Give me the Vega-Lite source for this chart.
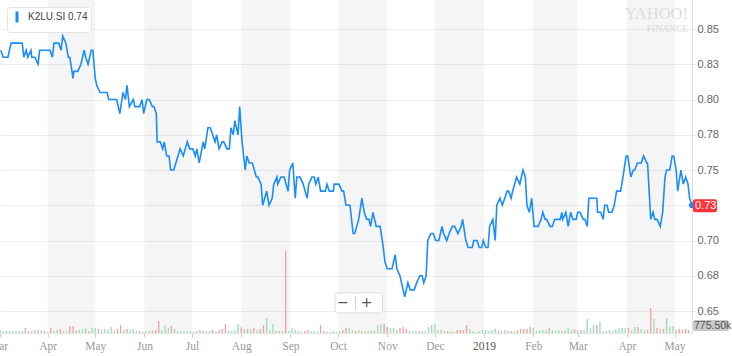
{
"$schema":"https://vega.github.io/schema/vega-lite/v6.json",
"width":692,"height":333,
"autosize":{"type":"none"},
"padding":{"left":0,"top":0,"right":40,"bottom":23},
"background":"white",
"config":{"view":{"stroke":null}},
"title":{"text":"YAHOO!","subtitle":"FINANCE","anchor":"end","frame":"group","orient":"top","offset":-33,"dx":-4,"color":"#dcdcdc","font":"Liberation Serif","fontSize":16.5,"fontWeight":"normal","subtitleColor":"#dcdcdc","subtitleFont":"Liberation Serif","subtitleFontSize":9.5,"subtitlePadding":1},
"datasets":{
"bands":[{"s":"2018-04-01","e":"2018-05-01"},{"s":"2018-06-01","e":"2018-07-01"},{"s":"2018-08-01","e":"2018-09-01"},{"s":"2018-10-01","e":"2018-11-01"},{"s":"2018-12-01","e":"2019-01-01"},{"s":"2019-02-01","e":"2019-03-01"},{"s":"2019-04-01","e":"2019-05-01"}],
"price":[
{"d":"2018-03-02T12:00Z","p":0.835},{"d":"2018-03-04","p":0.83},{"d":"2018-03-07","p":0.83},{"d":"2018-03-09","p":0.84},{"d":"2018-03-16","p":0.84},{"d":"2018-03-17","p":0.83},{"d":"2018-03-18T12:00Z","p":0.835},{"d":"2018-03-19T12:00Z","p":0.83},{"d":"2018-03-21T12:00Z","p":0.835},{"d":"2018-03-22","p":0.83},{"d":"2018-03-24","p":0.83},{"d":"2018-03-26","p":0.825},{"d":"2018-03-27","p":0.835},
{"d":"2018-04-02T12:00Z","p":0.835},{"d":"2018-04-04","p":0.83},{"d":"2018-04-05","p":0.84},{"d":"2018-04-08","p":0.84},{"d":"2018-04-09T12:00Z","p":0.835},{"d":"2018-04-10T12:00Z","p":0.845},{"d":"2018-04-12T12:00Z","p":0.84},{"d":"2018-04-14","p":0.83},{"d":"2018-04-15","p":0.83},{"d":"2018-04-17","p":0.815},{"d":"2018-04-17T12:00Z","p":0.82},{"d":"2018-04-20","p":0.82},{"d":"2018-04-22","p":0.825},{"d":"2018-04-24","p":0.835},{"d":"2018-04-25","p":0.83},{"d":"2018-04-26T12:00Z","p":0.825},{"d":"2018-04-28T12:00Z","p":0.835},{"d":"2018-04-29T12:00Z","p":0.835},
{"d":"2018-05-01","p":0.815},{"d":"2018-05-02","p":0.81},{"d":"2018-05-04","p":0.805},{"d":"2018-05-08T12:00Z","p":0.805},{"d":"2018-05-09T12:00Z","p":0.80},{"d":"2018-05-14T12:00Z","p":0.80},{"d":"2018-05-16T12:00Z","p":0.79},{"d":"2018-05-18T12:00Z","p":0.805},{"d":"2018-05-20","p":0.80},{"d":"2018-05-21","p":0.81},{"d":"2018-05-22T12:00Z","p":0.795},{"d":"2018-05-25","p":0.80},{"d":"2018-05-26","p":0.795},{"d":"2018-05-29","p":0.795},{"d":"2018-05-30T12:00Z","p":0.80},{"d":"2018-05-31T12:00Z","p":0.79},
{"d":"2018-06-02T12:00Z","p":0.80},{"d":"2018-06-04","p":0.80},{"d":"2018-06-06","p":0.795},{"d":"2018-06-07","p":0.795},{"d":"2018-06-08T12:00Z","p":0.79},{"d":"2018-06-09","p":0.77},{"d":"2018-06-11","p":0.77},{"d":"2018-06-12T12:00Z","p":0.765},{"d":"2018-06-13T12:00Z","p":0.77},{"d":"2018-06-15","p":0.76},{"d":"2018-06-16T12:00Z","p":0.76},{"d":"2018-06-17T12:00Z","p":0.75},{"d":"2018-06-19T12:00Z","p":0.75},{"d":"2018-06-23T12:00Z","p":0.765},{"d":"2018-06-25T12:00Z","p":0.76},{"d":"2018-06-28","p":0.77},{"d":"2018-06-29T12:00Z","p":0.765},
{"d":"2018-07-01T12:00Z","p":0.765},{"d":"2018-07-03","p":0.76},{"d":"2018-07-04","p":0.765},{"d":"2018-07-05T12:00Z","p":0.755},{"d":"2018-07-08","p":0.77},{"d":"2018-07-09","p":0.765},{"d":"2018-07-11","p":0.78},{"d":"2018-07-12T12:00Z","p":0.78},{"d":"2018-07-14","p":0.775},{"d":"2018-07-15T12:00Z","p":0.77},{"d":"2018-07-16T12:00Z","p":0.775},{"d":"2018-07-18","p":0.765},{"d":"2018-07-20","p":0.77},{"d":"2018-07-21","p":0.77},{"d":"2018-07-23","p":0.765},{"d":"2018-07-24T12:00Z","p":0.765},{"d":"2018-07-25T12:00Z","p":0.78},{"d":"2018-07-27","p":0.775},{"d":"2018-07-28","p":0.785},{"d":"2018-07-30","p":0.775},{"d":"2018-07-31","p":0.795},
{"d":"2018-08-01T12:00Z","p":0.77},{"d":"2018-08-03T12:00Z","p":0.75},{"d":"2018-08-04T12:00Z","p":0.76},{"d":"2018-08-06","p":0.755},{"d":"2018-08-08","p":0.755},{"d":"2018-08-10T12:00Z","p":0.745},{"d":"2018-08-11T12:00Z","p":0.745},{"d":"2018-08-13T12:00Z","p":0.74},{"d":"2018-08-14T12:00Z","p":0.725},{"d":"2018-08-17","p":0.735},{"d":"2018-08-18T12:00Z","p":0.725},{"d":"2018-08-20T12:00Z","p":0.73},{"d":"2018-08-21T12:00Z","p":0.74},{"d":"2018-08-23T12:00Z","p":0.745},{"d":"2018-08-24","p":0.74},{"d":"2018-08-26","p":0.745},{"d":"2018-08-28","p":0.745},{"d":"2018-08-30T12:00Z","p":0.735},{"d":"2018-08-31T12:00Z","p":0.75},
{"d":"2018-09-02T12:00Z","p":0.755},{"d":"2018-09-04","p":0.73},{"d":"2018-09-05","p":0.745},{"d":"2018-09-07","p":0.745},{"d":"2018-09-09","p":0.74},{"d":"2018-09-11T12:00Z","p":0.73},{"d":"2018-09-12T12:00Z","p":0.74},{"d":"2018-09-14T12:00Z","p":0.745},{"d":"2018-09-16","p":0.745},{"d":"2018-09-17","p":0.74},{"d":"2018-09-18T12:00Z","p":0.745},{"d":"2018-09-20","p":0.735},{"d":"2018-09-23","p":0.735},{"d":"2018-09-24","p":0.74},{"d":"2018-09-25T12:00Z","p":0.735},{"d":"2018-09-28","p":0.735},{"d":"2018-09-28T12:00Z","p":0.74},
{"d":"2018-10-01T12:00Z","p":0.74},{"d":"2018-10-03T12:00Z","p":0.735},{"d":"2018-10-04T12:00Z","p":0.735},{"d":"2018-10-06","p":0.725},{"d":"2018-10-08T12:00Z","p":0.725},{"d":"2018-10-10T12:00Z","p":0.705},{"d":"2018-10-11T12:00Z","p":0.705},{"d":"2018-10-14","p":0.715},{"d":"2018-10-16","p":0.73},{"d":"2018-10-17T12:00Z","p":0.72},{"d":"2018-10-19","p":0.715},{"d":"2018-10-20T12:00Z","p":0.715},{"d":"2018-10-21T12:00Z","p":0.71},{"d":"2018-10-23","p":0.72},{"d":"2018-10-25","p":0.71},{"d":"2018-10-27T12:00Z","p":0.71},{"d":"2018-10-29T12:00Z","p":0.695},{"d":"2018-10-30T12:00Z","p":0.685},
{"d":"2018-11-01","p":0.68},{"d":"2018-11-04","p":0.68},{"d":"2018-11-06","p":0.69},{"d":"2018-11-07","p":0.68},{"d":"2018-11-09","p":0.675},{"d":"2018-11-11","p":0.665},{"d":"2018-11-12","p":0.66},{"d":"2018-11-14","p":0.67},{"d":"2018-11-15T12:00Z","p":0.665},{"d":"2018-11-18","p":0.665},{"d":"2018-11-19T12:00Z","p":0.67},{"d":"2018-11-21T12:00Z","p":0.675},{"d":"2018-11-23","p":0.675},{"d":"2018-11-24","p":0.67},{"d":"2018-11-25T12:00Z","p":0.675},{"d":"2018-11-26T12:00Z","p":0.70},{"d":"2018-11-28T12:00Z","p":0.705},{"d":"2018-11-30","p":0.705},
{"d":"2018-12-01T12:00Z","p":0.70},{"d":"2018-12-03T12:00Z","p":0.70},{"d":"2018-12-05T12:00Z","p":0.71},{"d":"2018-12-06T12:00Z","p":0.705},{"d":"2018-12-08T12:00Z","p":0.70},{"d":"2018-12-10","p":0.705},{"d":"2018-12-12","p":0.71},{"d":"2018-12-13T12:00Z","p":0.71},{"d":"2018-12-15T12:00Z","p":0.705},{"d":"2018-12-17T12:00Z","p":0.71},{"d":"2018-12-18T12:00Z","p":0.715},{"d":"2018-12-20T12:00Z","p":0.70},{"d":"2018-12-22","p":0.695},{"d":"2018-12-24T12:00Z","p":0.695},{"d":"2018-12-25T12:00Z","p":0.70},{"d":"2018-12-27T12:00Z","p":0.70},{"d":"2018-12-29","p":0.695},{"d":"2018-12-30T12:00Z","p":0.695},{"d":"2018-12-31T12:00Z","p":0.70},
{"d":"2019-01-02","p":0.695},{"d":"2019-01-03T12:00Z","p":0.695},{"d":"2019-01-04T12:00Z","p":0.71},{"d":"2019-01-06T12:00Z","p":0.715},{"d":"2019-01-08","p":0.70},{"d":"2019-01-09","p":0.725},{"d":"2019-01-11","p":0.73},{"d":"2019-01-12T12:00Z","p":0.725},{"d":"2019-01-14","p":0.73},{"d":"2019-01-15T12:00Z","p":0.735},{"d":"2019-01-16T12:00Z","p":0.735},{"d":"2019-01-18","p":0.73},{"d":"2019-01-19","p":0.735},{"d":"2019-01-21T12:00Z","p":0.745},{"d":"2019-01-23T12:00Z","p":0.74},{"d":"2019-01-25T12:00Z","p":0.75},{"d":"2019-01-27","p":0.745},{"d":"2019-01-28","p":0.725},{"d":"2019-01-29T12:00Z","p":0.72},{"d":"2019-01-31","p":0.73},
{"d":"2019-02-01T12:00Z","p":0.71},{"d":"2019-02-04","p":0.71},{"d":"2019-02-06","p":0.715},{"d":"2019-02-07","p":0.72},{"d":"2019-02-08T12:00Z","p":0.715},{"d":"2019-02-09T12:00Z","p":0.715},{"d":"2019-02-11T12:00Z","p":0.71},{"d":"2019-02-13","p":0.71},{"d":"2019-02-14T12:00Z","p":0.715},{"d":"2019-02-18","p":0.715},{"d":"2019-02-19","p":0.72},{"d":"2019-02-19T12:00Z","p":0.715},{"d":"2019-02-21T12:00Z","p":0.72},{"d":"2019-02-23","p":0.71},{"d":"2019-02-24T12:00Z","p":0.72},{"d":"2019-02-26","p":0.715},{"d":"2019-02-28","p":0.715},
{"d":"2019-03-01","p":0.72},{"d":"2019-03-02T12:00Z","p":0.72},{"d":"2019-03-04T12:00Z","p":0.715},{"d":"2019-03-05T12:00Z","p":0.715},{"d":"2019-03-07","p":0.71},{"d":"2019-03-08","p":0.73},{"d":"2019-03-13","p":0.73},{"d":"2019-03-13T12:00Z","p":0.72},{"d":"2019-03-15T12:00Z","p":0.72},{"d":"2019-03-17","p":0.715},{"d":"2019-03-18","p":0.725},{"d":"2019-03-19T12:00Z","p":0.725},{"d":"2019-03-20T12:00Z","p":0.72},{"d":"2019-03-22T12:00Z","p":0.72},{"d":"2019-03-24","p":0.725},{"d":"2019-03-25T12:00Z","p":0.735},{"d":"2019-03-28","p":0.735},{"d":"2019-03-29T12:00Z","p":0.745},{"d":"2019-03-31T12:00Z","p":0.76},
{"d":"2019-04-01T12:00Z","p":0.76},{"d":"2019-04-03T12:00Z","p":0.745},{"d":"2019-04-05","p":0.75},{"d":"2019-04-06","p":0.75},{"d":"2019-04-07T12:00Z","p":0.755},{"d":"2019-04-10","p":0.755},{"d":"2019-04-11T12:00Z","p":0.76},{"d":"2019-04-13T12:00Z","p":0.755},{"d":"2019-04-14","p":0.755},{"d":"2019-04-16","p":0.715},{"d":"2019-04-17T12:00Z","p":0.72},{"d":"2019-04-18T12:00Z","p":0.715},{"d":"2019-04-20","p":0.715},{"d":"2019-04-22","p":0.71},{"d":"2019-04-23T12:00Z","p":0.72},{"d":"2019-04-25","p":0.745},{"d":"2019-04-26","p":0.75},{"d":"2019-04-28","p":0.75},{"d":"2019-04-29T12:00Z","p":0.76},{"d":"2019-04-30T12:00Z","p":0.76},
{"d":"2019-05-02","p":0.75},{"d":"2019-05-03","p":0.735},{"d":"2019-05-05","p":0.75},{"d":"2019-05-06T12:00Z","p":0.74},{"d":"2019-05-08","p":0.745},{"d":"2019-05-09T12:00Z","p":0.74},{"d":"2019-05-10T12:00Z","p":0.73},{"d":"2019-05-12","p":0.725}
],
"last":[{"d":"2019-05-12","p":0.725,"t":"0.73"}],
"vlab":[{"d":"2019-05-12","v":775.5,"t":"775.50k"}],
"zoomui":[{"k":"\u2212","d":"2018-10-04"},{"k":"+","d":"2018-10-19"}],
"one":[{}],
"vol":[
{"d":"2018-03-02","v":259,"c":"r"},{"d":"2018-03-04","v":172,"c":"g"},{"d":"2018-03-06","v":172,"c":"g"},{"d":"2018-03-08","v":172,"c":"g"},{"d":"2018-03-10","v":172,"c":"g"},{"d":"2018-03-12","v":172,"c":"g"},{"d":"2018-03-14","v":172,"c":"g"},{"d":"2018-03-16","v":172,"c":"g"},{"d":"2018-03-18","v":431,"c":"r"},{"d":"2018-03-20","v":172,"c":"r"},{"d":"2018-03-22","v":172,"c":"g"},{"d":"2018-03-24","v":259,"c":"g"},{"d":"2018-03-26","v":259,"c":"r"},{"d":"2018-03-28","v":259,"c":"g"},{"d":"2018-03-30","v":172,"c":"r"},
{"d":"2018-04-01","v":86,"c":"g"},{"d":"2018-04-03","v":431,"c":"r"},{"d":"2018-04-05","v":172,"c":"g"},{"d":"2018-04-07","v":259,"c":"g"},{"d":"2018-04-09","v":345,"c":"r"},{"d":"2018-04-11","v":172,"c":"g"},{"d":"2018-04-13","v":172,"c":"g"},{"d":"2018-04-15","v":603,"c":"r"},{"d":"2018-04-17","v":603,"c":"r"},{"d":"2018-04-19","v":259,"c":"g"},{"d":"2018-04-21","v":259,"c":"g"},{"d":"2018-04-23","v":345,"c":"g"},{"d":"2018-04-25","v":431,"c":"g"},{"d":"2018-04-27","v":172,"c":"r"},{"d":"2018-04-29","v":431,"c":"g"},
{"d":"2018-05-01","v":431,"c":"g"},{"d":"2018-05-03","v":345,"c":"r"},{"d":"2018-05-05","v":259,"c":"g"},{"d":"2018-05-07","v":345,"c":"g"},{"d":"2018-05-09","v":259,"c":"g"},{"d":"2018-05-11","v":517,"c":"g"},{"d":"2018-05-13","v":172,"c":"g"},{"d":"2018-05-15","v":345,"c":"r"},{"d":"2018-05-17","v":690,"c":"r"},{"d":"2018-05-19","v":259,"c":"g"},{"d":"2018-05-21","v":345,"c":"r"},{"d":"2018-05-23","v":259,"c":"g"},{"d":"2018-05-25","v":345,"c":"g"},{"d":"2018-05-27","v":172,"c":"g"},{"d":"2018-05-29","v":172,"c":"r"},{"d":"2018-05-31","v":86,"c":"g"},
{"d":"2018-06-02","v":172,"c":"g"},{"d":"2018-06-04","v":172,"c":"g"},{"d":"2018-06-06","v":172,"c":"r"},{"d":"2018-06-08","v":259,"c":"r"},{"d":"2018-06-10","v":1034,"c":"r"},{"d":"2018-06-12","v":259,"c":"g"},{"d":"2018-06-14","v":690,"c":"g"},{"d":"2018-06-16","v":431,"c":"g"},{"d":"2018-06-18","v":603,"c":"r"},{"d":"2018-06-20","v":345,"c":"g"},{"d":"2018-06-22","v":172,"c":"g"},{"d":"2018-06-24","v":172,"c":"g"},{"d":"2018-06-26","v":172,"c":"g"},{"d":"2018-06-28","v":172,"c":"g"},{"d":"2018-06-30","v":172,"c":"g"},
{"d":"2018-07-02","v":86,"c":"g"},{"d":"2018-07-04","v":172,"c":"g"},{"d":"2018-07-06","v":259,"c":"r"},{"d":"2018-07-08","v":172,"c":"r"},{"d":"2018-07-10","v":172,"c":"g"},{"d":"2018-07-12","v":172,"c":"g"},{"d":"2018-07-14","v":259,"c":"r"},{"d":"2018-07-16","v":172,"c":"g"},{"d":"2018-07-18","v":259,"c":"r"},{"d":"2018-07-20","v":345,"c":"r"},{"d":"2018-07-22","v":776,"c":"r"},{"d":"2018-07-24","v":259,"c":"g"},{"d":"2018-07-26","v":172,"c":"g"},{"d":"2018-07-28","v":259,"c":"g"},{"d":"2018-07-30","v":776,"c":"g"},
{"d":"2018-08-01","v":517,"c":"r"},{"d":"2018-08-03","v":345,"c":"g"},{"d":"2018-08-05","v":345,"c":"r"},{"d":"2018-08-07","v":345,"c":"g"},{"d":"2018-08-09","v":431,"c":"r"},{"d":"2018-08-11","v":259,"c":"g"},{"d":"2018-08-13","v":345,"c":"r"},{"d":"2018-08-15","v":690,"c":"r"},{"d":"2018-08-17","v":1293,"c":"g"},{"d":"2018-08-19","v":259,"c":"g"},{"d":"2018-08-21","v":776,"c":"g"},{"d":"2018-08-23","v":172,"c":"g"},{"d":"2018-08-25","v":172,"c":"r"},{"d":"2018-08-27","v":172,"c":"g"},{"d":"2018-08-29","v":7068,"c":"r"},{"d":"2018-08-31","v":172,"c":"g"},
{"d":"2018-09-02","v":431,"c":"g"},{"d":"2018-09-04","v":259,"c":"g"},{"d":"2018-09-06","v":172,"c":"g"},{"d":"2018-09-08","v":86,"c":"g"},{"d":"2018-09-10","v":172,"c":"r"},{"d":"2018-09-12","v":259,"c":"r"},{"d":"2018-09-14","v":172,"c":"g"},{"d":"2018-09-16","v":172,"c":"g"},{"d":"2018-09-18","v":86,"c":"g"},{"d":"2018-09-20","v":690,"c":"r"},{"d":"2018-09-22","v":172,"c":"g"},{"d":"2018-09-24","v":86,"c":"g"},{"d":"2018-09-26","v":86,"c":"g"},{"d":"2018-09-28","v":172,"c":"g"},{"d":"2018-09-30","v":86,"c":"g"},
{"d":"2018-10-02","v":172,"c":"g"},{"d":"2018-10-04","v":259,"c":"r"},{"d":"2018-10-06","v":431,"c":"r"},{"d":"2018-10-08","v":431,"c":"g"},{"d":"2018-10-10","v":259,"c":"g"},{"d":"2018-10-12","v":172,"c":"r"},{"d":"2018-10-14","v":259,"c":"g"},{"d":"2018-10-16","v":172,"c":"r"},{"d":"2018-10-18","v":172,"c":"g"},{"d":"2018-10-20","v":172,"c":"g"},{"d":"2018-10-22","v":259,"c":"g"},{"d":"2018-10-24","v":172,"c":"r"},{"d":"2018-10-26","v":690,"c":"g"},{"d":"2018-10-28","v":776,"c":"g"},{"d":"2018-10-30","v":776,"c":"r"},
{"d":"2018-11-01","v":517,"c":"r"},{"d":"2018-11-03","v":431,"c":"g"},{"d":"2018-11-05","v":431,"c":"g"},{"d":"2018-11-07","v":259,"c":"g"},{"d":"2018-11-09","v":431,"c":"r"},{"d":"2018-11-11","v":517,"c":"r"},{"d":"2018-11-13","v":345,"c":"r"},{"d":"2018-11-15","v":259,"c":"g"},{"d":"2018-11-17","v":172,"c":"g"},{"d":"2018-11-19","v":172,"c":"g"},{"d":"2018-11-21","v":172,"c":"r"},{"d":"2018-11-23","v":172,"c":"g"},{"d":"2018-11-25","v":172,"c":"g"},{"d":"2018-11-27","v":517,"c":"g"},{"d":"2018-11-29","v":690,"c":"g"},
{"d":"2018-12-01","v":776,"c":"g"},{"d":"2018-12-03","v":259,"c":"g"},{"d":"2018-12-05","v":259,"c":"r"},{"d":"2018-12-07","v":172,"c":"g"},{"d":"2018-12-09","v":172,"c":"r"},{"d":"2018-12-11","v":172,"c":"g"},{"d":"2018-12-13","v":86,"c":"g"},{"d":"2018-12-15","v":259,"c":"r"},{"d":"2018-12-17","v":259,"c":"r"},{"d":"2018-12-19","v":259,"c":"r"},{"d":"2018-12-21","v":690,"c":"r"},{"d":"2018-12-23","v":345,"c":"g"},{"d":"2018-12-25","v":172,"c":"g"},{"d":"2018-12-27","v":86,"c":"g"},{"d":"2018-12-29","v":172,"c":"g"},{"d":"2018-12-31","v":259,"c":"g"},
{"d":"2019-01-02","v":259,"c":"g"},{"d":"2019-01-04","v":172,"c":"g"},{"d":"2019-01-06","v":259,"c":"g"},{"d":"2019-01-08","v":345,"c":"g"},{"d":"2019-01-10","v":259,"c":"g"},{"d":"2019-01-12","v":172,"c":"r"},{"d":"2019-01-14","v":259,"c":"g"},{"d":"2019-01-16","v":172,"c":"g"},{"d":"2019-01-18","v":172,"c":"r"},{"d":"2019-01-20","v":172,"c":"g"},{"d":"2019-01-22","v":259,"c":"r"},{"d":"2019-01-24","v":345,"c":"r"},{"d":"2019-01-26","v":345,"c":"r"},{"d":"2019-01-28","v":345,"c":"r"},{"d":"2019-01-30","v":517,"c":"r"},
{"d":"2019-02-01","v":431,"c":"g"},{"d":"2019-02-03","v":172,"c":"g"},{"d":"2019-02-05","v":259,"c":"g"},{"d":"2019-02-07","v":259,"c":"g"},{"d":"2019-02-09","v":259,"c":"g"},{"d":"2019-02-11","v":431,"c":"r"},{"d":"2019-02-13","v":259,"c":"g"},{"d":"2019-02-15","v":172,"c":"g"},{"d":"2019-02-17","v":259,"c":"g"},{"d":"2019-02-19","v":172,"c":"r"},{"d":"2019-02-21","v":259,"c":"g"},{"d":"2019-02-23","v":431,"c":"g"},{"d":"2019-02-25","v":259,"c":"g"},{"d":"2019-02-27","v":345,"c":"r"},
{"d":"2019-03-01","v":259,"c":"g"},{"d":"2019-03-03","v":259,"c":"r"},{"d":"2019-03-05","v":259,"c":"g"},{"d":"2019-03-07","v":1207,"c":"g"},{"d":"2019-03-09","v":431,"c":"g"},{"d":"2019-03-11","v":690,"c":"g"},{"d":"2019-03-13","v":690,"c":"r"},{"d":"2019-03-15","v":948,"c":"g"},{"d":"2019-03-17","v":172,"c":"g"},{"d":"2019-03-19","v":172,"c":"g"},{"d":"2019-03-21","v":259,"c":"g"},{"d":"2019-03-23","v":172,"c":"g"},{"d":"2019-03-25","v":345,"c":"g"},{"d":"2019-03-27","v":431,"c":"g"},{"d":"2019-03-29","v":431,"c":"g"},{"d":"2019-03-31","v":431,"c":"g"},
{"d":"2019-04-02","v":431,"c":"r"},{"d":"2019-04-04","v":259,"c":"g"},{"d":"2019-04-06","v":517,"c":"g"},{"d":"2019-04-08","v":517,"c":"r"},{"d":"2019-04-10","v":345,"c":"g"},{"d":"2019-04-12","v":259,"c":"g"},{"d":"2019-04-14","v":259,"c":"r"},{"d":"2019-04-16","v":2155,"c":"r"},{"d":"2019-04-18","v":1207,"c":"g"},{"d":"2019-04-20","v":431,"c":"r"},{"d":"2019-04-22","v":345,"c":"g"},{"d":"2019-04-24","v":345,"c":"r"},{"d":"2019-04-26","v":1293,"c":"g"},{"d":"2019-04-28","v":517,"c":"g"},{"d":"2019-04-30","v":603,"c":"g"},
{"d":"2019-05-02","v":259,"c":"r"},{"d":"2019-05-04","v":345,"c":"r"},{"d":"2019-05-06","v":259,"c":"r"},{"d":"2019-05-08","v":345,"c":"r"},{"d":"2019-05-10","v":259,"c":"r"}
]
},
"resolve":{"scale":{"y":"independent"}},
"layer":[
{"data":{"name":"bands"},"mark":{"type":"rect","fill":"#000","opacity":0.04},
 "encoding":{
  "x":{"field":"s","type":"temporal","scale":{"type":"utc","padding":0,"domain":[{"year":2018,"month":3,"date":2,"utc":true},{"year":2019,"month":5,"date":12,"utc":true}]},
   "axis":{"title":null,"grid":false,"values":[{"year":2018,"month":3,"date":2,"utc":true},{"year":2018,"month":4,"date":1,"utc":true},{"year":2018,"month":5,"date":1,"utc":true},{"year":2018,"month":6,"date":1,"utc":true},{"year":2018,"month":7,"date":1,"utc":true},{"year":2018,"month":8,"date":1,"utc":true},{"year":2018,"month":9,"date":1,"utc":true},{"year":2018,"month":10,"date":1,"utc":true},{"year":2018,"month":11,"date":1,"utc":true},{"year":2018,"month":12,"date":1,"utc":true},{"year":2019,"month":1,"date":1,"utc":true},{"year":2019,"month":2,"date":1,"utc":true},{"year":2019,"month":3,"date":1,"utc":true},{"year":2019,"month":4,"date":1,"utc":true},{"year":2019,"month":5,"date":1,"utc":true}],
    "labelExpr":"utcmonth(datum.value)==0 ? utcFormat(datum.value,'%Y') : utcFormat(datum.value,'%b')",
    "labelFont":"Liberation Serif","labelFontSize":11.5,"labelColor":{"condition":{"test":"utcmonth(datum.value)==0","value":"#555555"},"value":"#999999"},
    "labelOffset":{"condition":{"test":"utcyear(datum.value)==2018 && utcmonth(datum.value)==2","value":-2},"value":0},
    "labelFlush":false,"labelOverlap":false,"labelBound":false,"labelPadding":3,"tickSize":4,"tickColor":"#cccccc","domainColor":"#e6e6e6"}},
  "x2":{"field":"e"}}},
{"data":{"name":"vol"},"mark":{"type":"bar","size":1.4},
 "encoding":{
  "x":{"field":"d","type":"temporal","scale":{"type":"utc","padding":0,"domain":[{"year":2018,"month":3,"date":2,"utc":true},{"year":2019,"month":5,"date":12,"utc":true}]}},
  "y":{"field":"v","type":"quantitative","scale":{"domain":[0,28700],"nice":false,"zero":true},"axis":null},
  "fill":{"field":"c","type":"nominal","scale":{"domain":["g","r"],"range":["#9edcbb","#f4a3a3"]},"legend":null}}},
{"data":{"name":"one"},"mark":{"type":"rect","fill":"#ffffff","stroke":"#dcdcdc","strokeWidth":1,"cornerRadius":3},
 "encoding":{
  "x":{"datum":{"year":2018,"month":9,"date":29,"utc":true},"type":"temporal","scale":{"type":"utc","padding":0,"domain":[{"year":2018,"month":3,"date":2,"utc":true},{"year":2019,"month":5,"date":12,"utc":true}]}},
  "x2":{"datum":{"year":2018,"month":10,"date":29,"utc":true}},
  "y":{"datum":0.6628,"type":"quantitative","scale":{"domain":[0.6344,0.8706],"nice":false,"zero":false},"axis":null},
  "y2":{"datum":0.6486}}},
{"data":{"name":"one"},"mark":{"type":"rule","stroke":"#d0d0d0"},
 "encoding":{
  "x":{"datum":{"year":2018,"month":10,"date":12,"utc":true},"type":"temporal","scale":{"type":"utc","padding":0,"domain":[{"year":2018,"month":3,"date":2,"utc":true},{"year":2019,"month":5,"date":12,"utc":true}]}},
  "y":{"datum":0.6607,"type":"quantitative","scale":{"domain":[0.6344,0.8706],"nice":false,"zero":false},"axis":null},
  "y2":{"datum":0.6507}}},
{"data":{"name":"zoomui"},"mark":{"type":"text","color":"#555555","font":"DejaVu Sans","fontSize":14,"baseline":"middle","align":"center"},
 "encoding":{
  "x":{"field":"d","type":"temporal","scale":{"type":"utc","padding":0,"domain":[{"year":2018,"month":3,"date":2,"utc":true},{"year":2019,"month":5,"date":12,"utc":true}]}},
  "y":{"datum":0.6557,"type":"quantitative","scale":{"domain":[0.6344,0.8706],"nice":false,"zero":false},"axis":null},
  "text":{"field":"k"}}},
{"data":{"name":"price"},"mark":{"type":"line","strokeWidth":1.6,"interpolate":"linear"},
 "encoding":{
  "x":{"field":"d","type":"temporal","scale":{"type":"utc","padding":0,"domain":[{"year":2018,"month":3,"date":2,"utc":true},{"year":2019,"month":5,"date":12,"utc":true}]}},
  "y":{"field":"p","type":"quantitative","scale":{"domain":[0.6344,0.8706],"nice":false,"zero":false},
   "axis":{"orient":"right","title":null,"values":[0.65,0.675,0.7,0.725,0.75,0.775,0.8,0.825,0.85],"labelExpr":"abs(datum.value-0.725)<0.001 ? '' : format(datum.value+0.0001,'.2f')","labelFont":"Liberation Sans","labelFontSize":11,"labelColor":"#666666","tickColor":"#dddddd","tickSize":3,"domainColor":"#dddddd","gridColor":"#eeeeee","grid":true,"labelPadding":2}},
  "color":{"datum":"K2LU.SI\u00a00.74","scale":{"range":["#1a8cff"]},
   "legend":{"title":null,"orient":"top-left","offset":7,"padding":3,"fillColor":"#ffffff","strokeColor":"#e4e4e4","cornerRadius":3,"symbolType":"M0,-1L0,1","symbolSize":120,"symbolStrokeWidth":3,"labelFont":"Liberation Sans","labelFontSize":10,"labelColor":"#444444","labelOffset":4}}}},
{"data":{"name":"last"},"mark":{"type":"circle","size":36,"color":"#1a8cff","opacity":1},
 "encoding":{
  "x":{"field":"d","type":"temporal","scale":{"type":"utc","padding":0,"domain":[{"year":2018,"month":3,"date":2,"utc":true},{"year":2019,"month":5,"date":12,"utc":true}]}},
  "y":{"field":"p","type":"quantitative","scale":{"domain":[0.6344,0.8706],"nice":false,"zero":false},"axis":null}}},
{"data":{"name":"last"},"mark":{"type":"rect","fill":"#ff333a","cornerRadius":2,"xOffset":1,"x2Offset":25,"yOffset":-6,"y2Offset":7},
 "encoding":{
  "x":{"field":"d","type":"temporal","scale":{"type":"utc","padding":0,"domain":[{"year":2018,"month":3,"date":2,"utc":true},{"year":2019,"month":5,"date":12,"utc":true}]}},
  "x2":{"field":"d"},
  "y":{"field":"p","type":"quantitative","scale":{"domain":[0.6344,0.8706],"nice":false,"zero":false},"axis":null},
  "y2":{"field":"p"}}},
{"data":{"name":"last"},"mark":{"type":"text","color":"#ffffff","align":"left","baseline":"middle","dx":3,"dy":1,"font":"Liberation Sans","fontSize":11},
 "encoding":{
  "x":{"field":"d","type":"temporal","scale":{"type":"utc","padding":0,"domain":[{"year":2018,"month":3,"date":2,"utc":true},{"year":2019,"month":5,"date":12,"utc":true}]}},
  "y":{"field":"p","type":"quantitative","scale":{"domain":[0.6344,0.8706],"nice":false,"zero":false},"axis":null},
  "text":{"field":"t"}}},
{"data":{"name":"vlab"},"mark":{"type":"rect","fill":"#c9c9c9","cornerRadius":2,"xOffset":1,"x2Offset":37,"yOffset":-4,"y2Offset":7},
 "encoding":{
  "x":{"field":"d","type":"temporal","scale":{"type":"utc","padding":0,"domain":[{"year":2018,"month":3,"date":2,"utc":true},{"year":2019,"month":5,"date":12,"utc":true}]}},
  "x2":{"field":"d"},
  "y":{"field":"v","type":"quantitative","scale":{"domain":[0,28700],"nice":false,"zero":true},"axis":null},
  "y2":{"field":"v"}}},
{"data":{"name":"vlab"},"mark":{"type":"text","color":"#555555","align":"left","baseline":"middle","dx":2,"dy":2,"font":"Liberation Sans","fontSize":10.5},
 "encoding":{
  "x":{"field":"d","type":"temporal","scale":{"type":"utc","padding":0,"domain":[{"year":2018,"month":3,"date":2,"utc":true},{"year":2019,"month":5,"date":12,"utc":true}]}},
  "y":{"field":"v","type":"quantitative","scale":{"domain":[0,28700],"nice":false,"zero":true},"axis":null},
  "text":{"field":"t"}}}
]
}
